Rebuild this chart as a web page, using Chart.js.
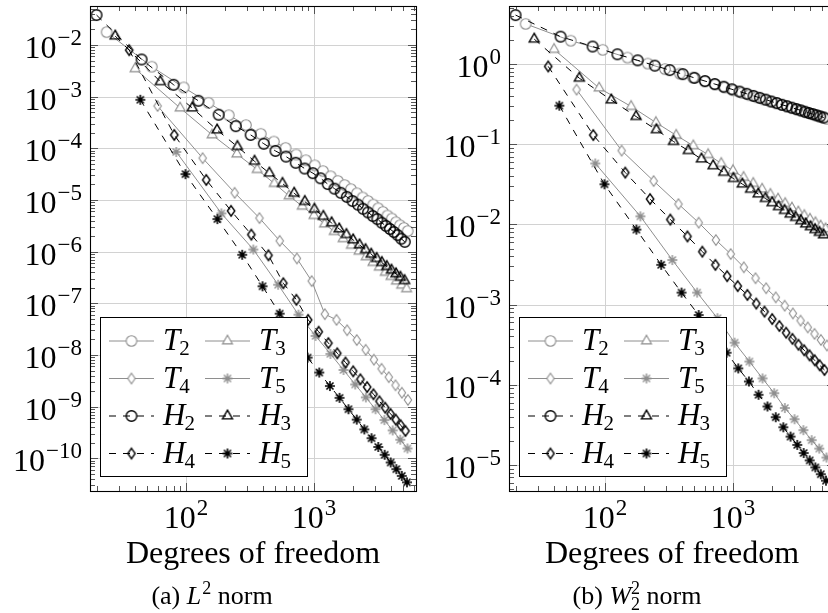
<!DOCTYPE html>
<html>
<head>
<meta charset="utf-8">
<script src="https://cdn.jsdelivr.net/npm/chart.js@4/dist/chart.umd.min.js"></script>
<style>
  body { margin: 0; background: #fff; width: 828px; height: 613px; overflow: hidden; position: relative; }
  .panel { position: absolute; top: 0; width: 420px; height: 613px; }
</style>
</head>
<body>
<div class="panel" style="left:0"><canvas id="l2"></canvas></div>
<div class="panel" style="left:420px"><canvas id="w2"></canvas></div>
<script>
// degrees of freedom of each method, one entry per refinement level
const dofH2 = [20, 45, 80, 125, 180, 245, 320, 405, 500, 605, 720, 845, 980, 1125, 1280, 1445, 1620, 1805, 2000, 2205, 2420, 2645, 2880, 3125, 3380, 3645, 3920, 4205, 4500, 4805, 5120];
const dofT2 = [24, 54, 96, 150, 216, 294, 384, 486, 600, 726, 864, 1014, 1176, 1350, 1536, 1734, 1944, 2166, 2400, 2646, 2904, 3174, 3456, 3750, 4056, 4374, 4704, 5046, 5400];
const dofH3 = [28, 63, 112, 175, 252, 343, 448, 567, 700, 847, 1008, 1183, 1372, 1575, 1792, 2023, 2268, 2527, 2800, 3087, 3388, 3703, 4032, 4375, 4732, 5103];
const dofT3 = [40, 90, 160, 250, 360, 490, 640, 810, 1000, 1210, 1440, 1690, 1960, 2250, 2560, 2890, 3240, 3610, 4000, 4410, 4840, 5290];
const dofH4 = [36, 81, 144, 225, 324, 441, 576, 729, 900, 1089, 1296, 1521, 1764, 2025, 2304, 2601, 2916, 3249, 3600, 3969, 4356, 4761, 5184];
const dofT4 = [60, 135, 240, 375, 540, 735, 960, 1215, 1500, 1815, 2160, 2535, 2940, 3375, 3840, 4335, 4860, 5415];
const dofH5 = [44, 99, 176, 275, 396, 539, 704, 891, 1100, 1331, 1584, 1859, 2156, 2475, 2816, 3179, 3564, 3971, 4400, 4851, 5324];
const dofT5 = [84, 189, 336, 525, 756, 1029, 1344, 1701, 2100, 2541, 3024, 3549, 4116, 4725, 5376];

// (a) L2 norm errors
const l2H2 = [3.80e-2, 5.25e-3, 1.70e-3, 8.32e-4, 4.47e-4, 2.69e-4, 1.82e-4, 1.23e-4, 8.91e-5, 6.92e-5, 5.25e-5, 4.07e-5, 3.31e-5, 2.63e-5, 2.04e-5, 1.66e-5, 1.38e-5, 1.15e-5, 9.55e-6, 8.13e-6, 6.76e-6, 5.75e-6, 4.90e-6, 4.27e-6, 3.63e-6, 3.16e-6, 2.75e-6, 2.40e-6, 2.09e-6, 1.78e-6, 1.55e-6];
const l2T2 = [1.78e-2, 3.80e-3, 1.51e-3, 7.59e-4, 4.37e-4, 2.82e-4, 1.91e-4, 1.35e-4, 1.02e-4, 7.59e-5, 5.89e-5, 4.68e-5, 3.63e-5, 2.88e-5, 2.34e-5, 1.95e-5, 1.62e-5, 1.35e-5, 1.12e-5, 9.55e-6, 8.13e-6, 6.92e-6, 5.89e-6, 5.01e-6, 4.37e-6, 3.72e-6, 3.24e-6, 2.88e-6, 2.51e-6];
const l2H3 = [1.49e-2, 1.95e-3, 6.03e-4, 2.26e-4, 1.08e-4, 5.62e-5, 3.31e-5, 2.09e-5, 1.35e-5, 9.33e-6, 6.61e-6, 4.82e-6, 3.61e-6, 2.75e-6, 2.14e-6, 1.69e-6, 1.35e-6, 1.09e-6, 8.91e-7, 7.36e-7, 6.15e-7, 5.14e-7, 4.37e-7, 3.72e-7, 3.18e-7, 2.75e-7];
const l2T3 = [3.47e-3, 6.03e-4, 1.82e-4, 7.76e-5, 3.89e-5, 2.09e-5, 1.20e-5, 7.59e-6, 5.01e-6, 3.43e-6, 2.45e-6, 1.78e-6, 1.33e-6, 1.02e-6, 7.94e-7, 6.17e-7, 5.01e-7, 3.98e-7, 3.31e-7, 2.69e-7, 2.24e-7, 1.91e-7];
const l2H4 = [7.94e-3, 1.82e-4, 2.45e-5, 6.17e-6, 2.14e-6, 8.51e-7, 2.45e-7, 1.17e-7, 4.79e-8, 2.82e-8, 1.70e-8, 1.08e-8, 7.16e-9, 4.84e-9, 3.39e-9, 2.40e-9, 1.74e-9, 1.27e-9, 9.55e-10, 7.24e-10, 5.62e-10, 4.37e-10, 3.39e-10];
const l2T4 = [6.61e-4, 6.46e-5, 1.38e-5, 4.47e-6, 1.62e-6, 7.41e-7, 2.69e-7, 6.17e-8, 4.79e-8, 3.02e-8, 1.95e-8, 1.26e-8, 8.13e-9, 5.41e-9, 3.72e-9, 2.59e-9, 1.86e-9, 1.35e-9];
const l2H5 = [8.71e-4, 3.16e-5, 4.27e-6, 8.71e-7, 2.14e-7, 6.31e-8, 2.29e-8, 8.91e-9, 4.57e-9, 2.51e-9, 1.48e-9, 8.91e-10, 5.62e-10, 3.63e-10, 2.45e-10, 1.66e-10, 1.17e-10, 8.32e-11, 6.17e-11, 4.57e-11, 3.43e-11];
const l2T5 = [8.51e-5, 5.50e-6, 1.10e-6, 2.29e-7, 6.03e-8, 2.34e-8, 1.05e-8, 5.13e-9, 2.69e-9, 1.51e-9, 8.91e-10, 5.50e-10, 3.47e-10, 2.29e-10, 1.55e-10];

// (b) W_2^2 norm errors
const w2H2 = [4.07, 2.19, 1.65, 1.32, 1.11, 0.953, 0.838, 0.746, 0.671, 0.612, 0.562, 0.520, 0.483, 0.452, 0.425, 0.400, 0.378, 0.359, 0.340, 0.325, 0.310, 0.297, 0.285, 0.274, 0.264, 0.254, 0.245, 0.237, 0.229, 0.222, 0.215];
const w2T2 = [3.16, 1.95, 1.50, 1.20, 1.01, 0.863, 0.759, 0.675, 0.608, 0.553, 0.508, 0.470, 0.437, 0.408, 0.384, 0.361, 0.342, 0.324, 0.308, 0.294, 0.281, 0.269, 0.258, 0.248, 0.238, 0.230, 0.222, 0.214, 0.207];
const w2H3 = [2.04, 0.664, 0.355, 0.221, 0.151, 0.108, 0.0832, 0.0653, 0.0537, 0.0445, 0.0373, 0.0318, 0.0274, 0.0239, 0.0210, 0.0186, 0.0166, 0.0149, 0.0134, 0.0122, 0.0111, 0.0101, 0.00933, 0.00859, 0.00794, 0.00738];
const w2T3 = [1.52, 0.501, 0.295, 0.186, 0.129, 0.0955, 0.0741, 0.0575, 0.0468, 0.0385, 0.0324, 0.0275, 0.0237, 0.0207, 0.0182, 0.0160, 0.0143, 0.0129, 0.0116, 0.0105, 0.00955, 0.00881];
const w2H4 = [0.933, 0.130, 0.0442, 0.0207, 0.0115, 0.00708, 0.00457, 0.00313, 0.00226, 0.00170, 0.00132, 0.00103, 8.18e-4, 6.61e-4, 5.41e-4, 4.47e-4, 3.74e-4, 3.16e-4, 2.70e-4, 2.33e-4, 2.02e-4, 1.75e-4, 1.53e-4];
const w2T4 = [0.479, 0.0832, 0.0347, 0.0179, 0.0105, 0.00638, 0.00427, 0.00292, 0.00213, 0.00160, 0.00123, 9.70e-4, 7.76e-4, 6.31e-4, 5.19e-4, 4.32e-4, 3.63e-4, 3.09e-4];
const w2H5 = [0.302, 0.0316, 0.00861, 0.00313, 0.00141, 7.41e-4, 4.27e-4, 2.51e-4, 1.60e-4, 1.10e-4, 7.50e-5, 5.37e-5, 3.94e-5, 2.95e-5, 2.26e-5, 1.78e-5, 1.41e-5, 1.14e-5, 9.33e-6, 7.67e-6, 6.38e-6];
const w2T5 = [0.0575, 0.0126, 0.00359, 0.00141, 6.76e-4, 3.35e-4, 1.95e-4, 1.20e-4, 7.85e-5, 5.13e-5, 3.72e-5, 2.72e-5, 2.04e-5, 1.60e-5, 1.24e-5];

// tick labels (powers of ten)
const dofExp = [2, 3];
const l2Exp = [-10, -9, -8, -7, -6, -5, -4, -3, -2];
const w2Exp = [-5, -4, -3, -2, -1, 0];

const seriesNames = ['T2', 'T3', 'T4', 'T5', 'H2', 'H3', 'H4', 'H5'];
const legendRows = [['T2', 'T3'], ['T4', 'T5'], ['H2', 'H3'], ['H4', 'H5']];
const dofs = { T2: dofT2, T3: dofT3, T4: dofT4, T5: dofT5, H2: dofH2, H3: dofH3, H4: dofH4, H5: dofH5 };

const SERIF = '"Liberation Serif", "Times New Roman", serif';
const GRAY = '#8e8e8e';

function setFont(ctx, size, italic) {
  ctx.font = (italic ? 'italic ' : '') + size + 'px ' + SERIF;
}

// draw a list of text runs (for superscripts / subscripts)
function drawRuns(ctx, runs, x, y, align) {
  const adv = runs.map(r => {
    setFont(ctx, r.s, r.i);
    return r.stay ? 0 : ctx.measureText(r.t).width + (r.gap || 0);
  });
  const w = adv.reduce((a, b) => a + b, 0);
  let cx = align === 'right' ? x - w : align === 'center' ? x - w / 2 : x;
  ctx.textAlign = 'left';
  ctx.textBaseline = 'alphabetic';
  runs.forEach((r, i) => {
    setFont(ctx, r.s, r.i);
    ctx.fillText(r.t, cx, y + (r.dy || 0));
    cx += adv[i];
  });
}

function powRuns(e) {
  return [{ t: '10', s: 32, gap: 1 }, { t: (e < 0 ? '\u2212' : '') + Math.abs(e), s: 23, dy: -13 }];
}

function makeMarker(shape, color, fill, lw) {
  const c = document.createElement('canvas');
  c.width = c.height = 16;
  const g = c.getContext('2d');
  g.translate(8, 8);
  g.strokeStyle = color;
  g.lineWidth = lw;
  g.beginPath();
  if (shape === 'circle') {
    g.arc(0, 0, 5.3, 0, 2 * Math.PI);
  } else if (shape === 'triangle') {
    g.moveTo(0, -5.8); g.lineTo(5.0, 2.9); g.lineTo(-5.0, 2.9); g.closePath();
  } else if (shape === 'diamond') {
    g.moveTo(0, -5.2); g.lineTo(3.7, 0); g.lineTo(0, 5.2); g.lineTo(-3.7, 0); g.closePath();
  } else {
    for (let k = 0; k < 4; k++) {
      const a = k * Math.PI / 4;
      g.moveTo(-5 * Math.cos(a), -5 * Math.sin(a));
      g.lineTo(5 * Math.cos(a), 5 * Math.sin(a));
    }
  }
  if (fill && shape !== 'star') { g.fillStyle = fill; g.fill(); }
  g.stroke();
  return c;
}

const shapeOf = { '2': 'circle', '3': 'triangle', '4': 'diamond', '5': 'star' };
const styles = {};
seriesNames.forEach(name => {
  const isT = name[0] === 'T';
  const star = name[1] === '5';
  styles[name] = {
    color: isT ? GRAY : '#000',
    dash: isT ? [] : [7, 7],
    marker: makeMarker(shapeOf[name[1]], isT ? GRAY : '#000', isT ? '#fff' : null, isT ? (star ? 1.4 : 1.1) : (star ? 1.6 : 1.4))
  };
});

const decor = {
  id: 'decor',
  beforeDatasetsDraw(chart, args, opts) {
    const { ctx, chartArea: a, scales: { x, y } } = chart;
    ctx.save();
    ctx.strokeStyle = '#d2d2d2';
    ctx.lineWidth = 1;
    dofExp.forEach(e => {
      const px = Math.round(x.getPixelForValue(Math.pow(10, e))) + 0.5;
      ctx.beginPath(); ctx.moveTo(px, a.top); ctx.lineTo(px, a.bottom); ctx.stroke();
    });
    opts.yExp.forEach(e => {
      const py = Math.round(y.getPixelForValue(Math.pow(10, e))) + 0.5;
      ctx.beginPath(); ctx.moveTo(a.left, py); ctx.lineTo(a.right, py); ctx.stroke();
    });
    ctx.restore();
  },
  afterDatasetsDraw(chart, args, opts) {
    const { ctx, chartArea: a, scales: { x, y } } = chart;
    ctx.save();

    // tick marks on all four sides, pointing inwards
    ctx.strokeStyle = '#444';
    ctx.lineWidth = 0.9;
    const ticksFor = (sc) => {
      const out = [];
      const lo = Math.floor(Math.log10(sc.min)), hi = Math.ceil(Math.log10(sc.max));
      for (let k = lo; k <= hi; k++) {
        for (let m = 1; m <= 9; m++) {
          const v = m * Math.pow(10, k);
          if (v >= sc.min && v <= sc.max) out.push({ v, major: m === 1 });
        }
      }
      return out;
    };
    ticksFor(x).forEach(t => {
      const px = Math.round(x.getPixelForValue(t.v)) + 0.5, len = t.major ? 8 : 5;
      ctx.beginPath();
      ctx.moveTo(px, a.bottom); ctx.lineTo(px, a.bottom - len);
      ctx.moveTo(px, a.top); ctx.lineTo(px, a.top + len);
      ctx.stroke();
    });
    ticksFor(y).forEach(t => {
      const py = Math.round(y.getPixelForValue(t.v)) + 0.5, len = t.major ? 8 : 5;
      ctx.beginPath();
      ctx.moveTo(a.left, py); ctx.lineTo(a.left + len, py);
      ctx.moveTo(a.right, py); ctx.lineTo(a.right - len, py);
      ctx.stroke();
    });

    // legend
    const bx = a.left + 10, by = 317, bw = 207, bh = 159;
    ctx.fillStyle = '#fff';
    ctx.fillRect(bx, by, bw, bh);
    ctx.strokeStyle = '#000';
    ctx.lineWidth = 1;
    ctx.strokeRect(Math.round(bx) + 0.5, by + 0.5, bw, bh);
    legendRows.forEach((row, r) => row.forEach((name, c) => {
      const st = styles[name];
      const cy = by + 24 + r * 37.5;
      const x0 = bx + 9 + c * 96;
      ctx.strokeStyle = st.color;
      ctx.lineWidth = 1;
      ctx.setLineDash(st.dash);
      ctx.beginPath(); ctx.moveTo(x0, cy); ctx.lineTo(x0 + 45, cy); ctx.stroke();
      ctx.setLineDash([]);
      ctx.drawImage(st.marker, x0 + 22.5 - 8, cy - 8);
      ctx.fillStyle = '#000';
      drawRuns(ctx, [{ t: name[0], s: 31, i: true, gap: -1 }, { t: name[1], s: 21, dy: 5 }], x0 + 54, cy + 9, 'left');
    }));

    // frame
    ctx.strokeStyle = '#000';
    ctx.lineWidth = 1.1;
    ctx.strokeRect(Math.round(a.left) + 0.5, Math.round(a.top) + 0.5, Math.round(a.right - a.left), Math.round(a.bottom - a.top));

    // tick labels, axis title, caption
    ctx.fillStyle = '#000';
    dofExp.forEach(e => drawRuns(ctx, powRuns(e), x.getPixelForValue(Math.pow(10, e)), a.bottom + 37, 'center'));
    opts.yExp.forEach(e => drawRuns(ctx, powRuns(e), a.left - 8, y.getPixelForValue(Math.pow(10, e)) + 13, 'right'));
    drawRuns(ctx, [{ t: 'Degrees of freedom', s: 32 }], (a.left + a.right) / 2, a.bottom + 72, 'center');
    drawRuns(ctx, opts.caption, opts.captionX, 604, 'center');
    ctx.restore();
  }
};

function makeChart(id, errs, yMin, yMax, yExp, yWidth, padRight, caption, captionX) {
  // datasets listed top-most first: H series are drawn above T series
  const order = ['H5', 'H4', 'H3', 'H2', 'T5', 'T4', 'T3', 'T2'];
  const datasets = order.map(name => ({
    label: name,
    data: dofs[name].map((d, i) => ({ x: d, y: errs[name][i] })),
    borderColor: styles[name].color,
    borderWidth: 1,
    borderDash: styles[name].dash,
    pointStyle: styles[name].marker,
    pointRadius: 5,
    pointHoverRadius: 5,
    tension: 0,
    fill: false,
    clip: false
  }));
  return new Chart(document.getElementById(id), {
    type: 'line',
    data: { datasets },
    plugins: [decor],
    options: {
      responsive: true,
      maintainAspectRatio: false,
      animation: false,
      events: [],
      layout: { autoPadding: false, padding: { top: 6, right: padRight, left: 0, bottom: 0 } },
      scales: {
        x: {
          type: 'logarithmic', min: 17.78, max: 6266, bounds: 'data',
          grid: { display: false }, border: { display: false }, ticks: { display: false },
          afterFit: s => { s.height = 122; }
        },
        y: {
          type: 'logarithmic', min: yMin, max: yMax, bounds: 'data',
          grid: { display: false }, border: { display: false }, ticks: { display: false },
          afterFit: s => { s.width = yWidth; }
        }
      },
      plugins: {
        legend: { display: false },
        tooltip: { enabled: false },
        decor: { yExp, caption, captionX }
      }
    }
  });
}

makeChart('l2',
  { T2: l2T2, T3: l2T3, T4: l2T4, T5: l2T5, H2: l2H2, H3: l2H3, H4: l2H4, H5: l2H5 },
  2.33e-11, 0.0569, l2Exp, 90, 4,
  [{ t: '(a) ', s: 26 }, { t: 'L', s: 26, i: true, gap: 1 }, { t: '2', s: 18, dy: -10 }, { t: ' norm', s: 26 }],
  212);

makeChart('w2',
  { T2: w2T2, T3: w2T3, T4: w2T4, T5: w2T5, H2: w2H2, H3: w2H3, H4: w2H4, H5: w2H5 },
  4.74e-6, 5.28, w2Exp, 89, 5,
  [{ t: '(b) ', s: 26 }, { t: 'W', s: 26, i: true }, { t: '2', s: 18, dy: 6, stay: true }, { t: '2', s: 18, dy: -10 }, { t: ' norm', s: 26 }],
  217);
</script>
</body>
</html>
